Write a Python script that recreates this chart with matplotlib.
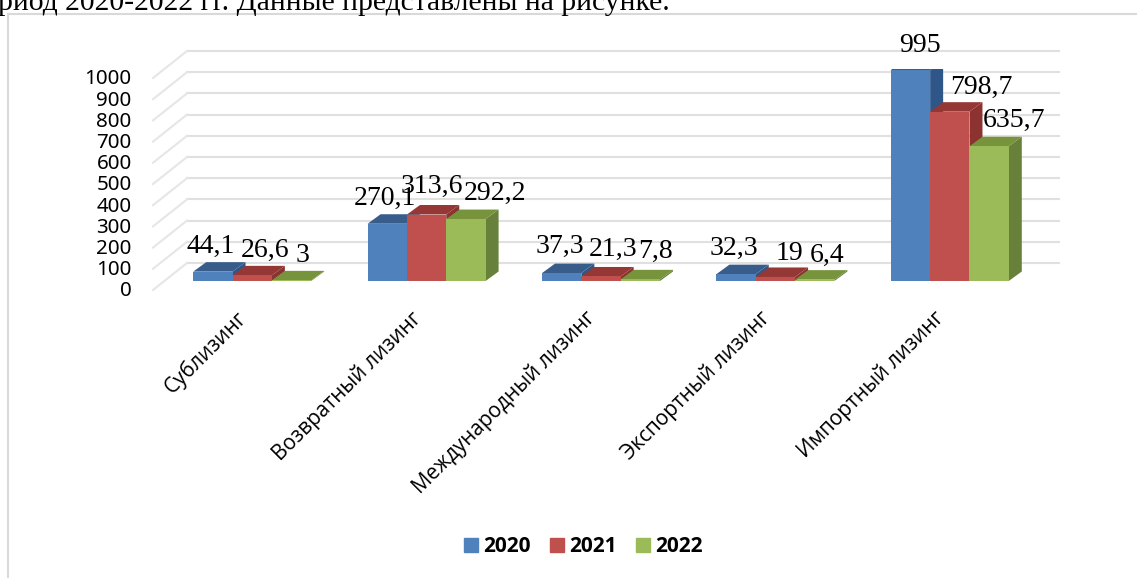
import matplotlib
matplotlib.use("Agg")
import matplotlib.pyplot as plt
from matplotlib.patches import Polygon
from matplotlib.transforms import Affine2D

categories = ["Сублизинг", "Возвратный лизинг", "Международный лизинг", "Экспортный лизинг", "Импортный лизинг"]
years = ["2020", "2021", "2022"]
values_2020 = [44.1, 270.1, 37.3, 32.3, 995]
values_2021 = [26.6, 313.6, 21.3, 19, 798.7]
values_2022 = [3, 292.2, 7.8, 6.4, 635.7]
labels_2020 = ["44,1", "270,1", "37,3", "32,3", "995"]
labels_2021 = ["26,6", "313,6", "21,3", "19", "798,7"]
labels_2022 = ["3", "292,2", "7,8", "6,4", "635,7"]
y_ticks = list(range(0, 1001, 100))

fig = plt.figure(figsize=(11.37, 5.78), dpi=100)
W, H = 1137, 578

# axes sit on the plane of the bar fronts
ax = fig.add_axes([165 / W, 1 - 281 / H, 872 / W, 212 / H])
ax.set_xlim(-0.5, 4.5)
ax.set_ylim(0, 1000)
ax.patch.set_alpha(0)
for s in ax.spines.values():
    s.set_visible(False)

# pixel shifts for the fake depth
back = ax.transData + Affine2D().translate(22, 18)
front = ax.transData + Affine2D().translate(-12, -9)
depth = (13, 9.5)

for v in y_ticks:
    ax.plot([-0.5, 4.5], [v, v], color="#e0e0e0", lw=1.5, transform=back, zorder=1, clip_on=False)
    x0, y0 = front.transform((-0.5, v))
    x1, y1 = back.transform((-0.5, v))
    fig.add_artist(plt.Line2D([x0 / W, x1 / W], [y0 / H, y1 / H], color="#e6e6e6", lw=1.5))

series = [
    (values_2020, labels_2020, "#4f81bd", "#385d8a", "#2f5688"),
    (values_2021, labels_2021, "#c0504d", "#953735", "#8c3230"),
    (values_2022, labels_2022, "#9bbb59", "#77933c", "#67803a"),
]
bar_w = 0.2255
to_px = ax.transData
to_data = ax.transData.inverted()

for k, (vals, labs, col, top, side) in enumerate(series):
    xs = [i + (k - 1) * bar_w for i in range(len(categories))]
    ax.bar(xs, vals, width=bar_w, color=col, zorder=3 + k * 2)
    for x, v in zip(xs, vals):
        l, b = to_px.transform((x - bar_w / 2, 0))
        r, t = to_px.transform((x + bar_w / 2, v))
        dx, dy = depth
        side_pts = to_data.transform([(r, b), (r + dx, b + dy), (r + dx, t + dy), (r, t)])
        top_pts = to_data.transform([(l, t), (l + dx, t + dy), (r + dx, t + dy), (r, t)])
        ax.add_patch(Polygon(side_pts, color=side, lw=0, zorder=2 + k * 2))
        ax.add_patch(Polygon(top_pts, color=top, lw=0, zorder=2 + k * 2))

# data labels were dragged by hand in the original, so pixel spots (centre x, baseline y)
label_pos = [
    [(211, 253), (385, 205), (560, 253), (734, 255), (920, 52)],
    [(265, 257), (432, 193), (613, 256), (789, 260), (981, 94)],
    [(302, 262), (495, 200), (655, 258), (827, 262), (1014, 127)],
]
for k, s in enumerate(series):
    for (px, py), lab in zip(label_pos[k], s[1]):
        fig.text(px / W, 1 - py / H, lab, family="Liberation Serif", fontsize=20, ha="center",
                 va="baseline", zorder=20)

ax.set_yticks(y_ticks)
ax.tick_params(axis="y", length=0, pad=24, labelsize=14.8)
for t in ax.get_yticklabels():
    t.set_family("Noto Sans")
    t.set_transform(t.get_transform() + Affine2D().translate(0, -8))

ax.set_xticks(range(len(categories)))
ax.set_xticklabels(categories, rotation=45, ha="right", rotation_mode="anchor",
                   family="Open Sans", fontsize=15)
ax.tick_params(axis="x", length=0, pad=19)
for t in ax.get_xticklabels():
    t.set_transform(t.get_transform() + Affine2D().translate(-16, 0))

handles = [plt.Rectangle((0, 0), 1, 1, color=s[2]) for s in series]
leg = fig.legend(handles, years, loc="center", bbox_to_anchor=(583 / W, 1 - 547 / H), ncol=3,
                 frameon=False, handlelength=0.67, handleheight=0.67, columnspacing=0.92,
                 handletextpad=0.25, prop={"family": "Open Sans", "weight": "bold", "size": 15})

# chart frame and the line of page text above it
fig.add_artist(plt.Line2D([8 / W, 8 / W], [0, 1 - 14 / H], color="#d9d9d9", lw=1.5))
fig.add_artist(plt.Line2D([8 / W, 1], [1 - 14 / H, 1 - 14 / H], color="#d9d9d9", lw=1.5))
fig.text(-2 / W, 1 - 10 / H, "риод 2020-2022 гг. Данные представлены на рисунке.",
         family="Liberation Serif", fontsize=21.3, va="baseline", color="black")

fig.savefig("out.png", dpi=100)
